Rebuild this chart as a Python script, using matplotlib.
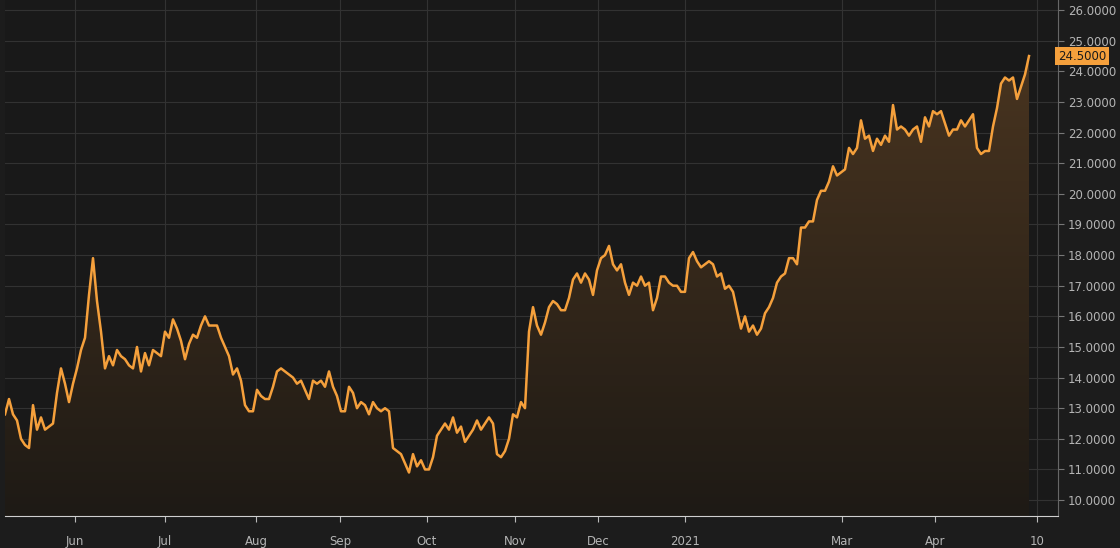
import matplotlib
matplotlib.use("Agg")
import matplotlib.pyplot as plt
import numpy as np

values = [12.8,13.3,12.8,12.6,12.0,11.8,11.7,13.1,12.3,12.7,12.3,12.4,12.5,13.5,14.3,13.8,13.2,13.8,14.3,14.9,15.3,16.7,17.9,16.5,15.5,14.3,14.7,14.4,14.9,14.7,14.6,14.4,14.3,15.0,14.2,14.8,14.4,14.9,14.8,14.7,15.5,15.3,15.9,15.6,15.2,14.6,15.1,15.4,15.3,15.7,16.0,15.7,15.7,15.7,15.3,15.0,14.7,14.1,14.3,13.9,13.1,12.9,12.9,13.6,13.4,13.3,13.3,13.7,14.2,14.3,14.2,14.1,14.0,13.8,13.9,13.6,13.3,13.9,13.8,13.9,13.7,14.2,13.7,13.4,12.9,12.9,13.7,13.5,13.0,13.2,13.1,12.8,13.2,13.0,12.9,13.0,12.9,11.7,11.6,11.5,11.2,10.9,11.5,11.1,11.3,11.0,11.0,11.4,12.1,12.3,12.5,12.3,12.7,12.2,12.4,11.9,12.1,12.3,12.6,12.3,12.5,12.7,12.5,11.5,11.4,11.6,12.0,12.8,12.7,13.2,13.0,15.5,16.3,15.7,15.4,15.8,16.3,16.5,16.4,16.2,16.2,16.6,17.2,17.4,17.1,17.4,17.2,16.7,17.5,17.9,18.0,18.3,17.7,17.5,17.7,17.1,16.7,17.1,17.0,17.3,17.0,17.1,16.2,16.6,17.3,17.3,17.1,17.0,17.0,16.8,16.8,17.9,18.1,17.8,17.6,17.7,17.8,17.7,17.3,17.4,16.9,17.0,16.8,16.2,15.6,16.0,15.5,15.7,15.4,15.6,16.1,16.3,16.6,17.1,17.3,17.4,17.9,17.9,17.7,18.9,18.9,19.1,19.1,19.8,20.1,20.1,20.4,20.9,20.6,20.7,20.8,21.5,21.3,21.5,22.4,21.8,21.9,21.4,21.8,21.6,21.9,21.7,22.9,22.1,22.2,22.1,21.9,22.1,22.2,21.7,22.5,22.2,22.7,22.6,22.7,22.3,21.9,22.1,22.1,22.4,22.2,22.4,22.6,21.5,21.3,21.4,21.4,22.2,22.8,23.6,23.8,23.7,23.8,23.1,23.5,23.9,24.5]
tick_labels = ["Jun","Jul","Aug","Sep","Oct","Nov","Dec","2021","Mar","Apr","10"]
tick_index = [17.5,40,62.75,83.75,105.5,127.5,148.25,170,209.25,232.5,258]
y_ticks = [10,11,12,13,14,15,16,17,18,19,20,21,22,23,24,25,26]

BG = "#1c1c1c"
LINE = "#f5a03c"
TXT = "#b4b4b4"
fig = plt.figure(figsize=(11.2,5.48), dpi=100, facecolor=BG)
ax = fig.add_axes([5/1120, 32/548, 1053/1120, 516/548], facecolor="#191919")
x = np.arange(len(values))
ymin, ymax = 9.48, 26.33
ax.set_xlim(0, 263.25); ax.set_ylim(ymin, ymax)
ax.plot(x, values, color=LINE, lw=1.8, zorder=3)
poly = ax.fill_between(x, values, ymin, color="none")
grad = np.linspace(0, 1, 256).reshape(-1, 1)
from matplotlib.colors import LinearSegmentedColormap
cmap = LinearSegmentedColormap.from_list("g", ["#1e1a15", "#4a3520"])
im = ax.imshow(grad, extent=[0, 263.25, ymin, 25], origin="lower", aspect="auto", cmap=cmap, zorder=2)
im.set_clip_path(poly.get_paths()[0], transform=ax.transData)
ax.set_yticks(y_ticks)
ax.set_yticklabels([f"{v:.4f}" for v in y_ticks])
ax.set_xticks(tick_index); ax.set_xticklabels(tick_labels)
ax.yaxis.tick_right()
ax.grid(True, color="#323232", lw=0.8)
ax.tick_params(colors=TXT, labelsize=8.5, length=4)
ax.tick_params(axis="y", colors="#777", labelcolor=TXT, pad=3)
ax.tick_params(axis="x", colors="#bbb", labelcolor=TXT, pad=10)
for s in ["top", "left"]:
    ax.spines[s].set_visible(False)
ax.spines["bottom"].set_color("#cfcfcf")
ax.spines["right"].set_color("#666")
ax.text(1.0, values[-1], f"{values[-1]:.4f}", transform=ax.get_yaxis_transform(),
        ha="left", va="center", fontsize=8.5, color="#1a1a1a",
        bbox=dict(boxstyle="square,pad=0.25", fc=LINE, ec="none"), clip_on=False)
fig.savefig("out.png", dpi=100, facecolor=BG)
